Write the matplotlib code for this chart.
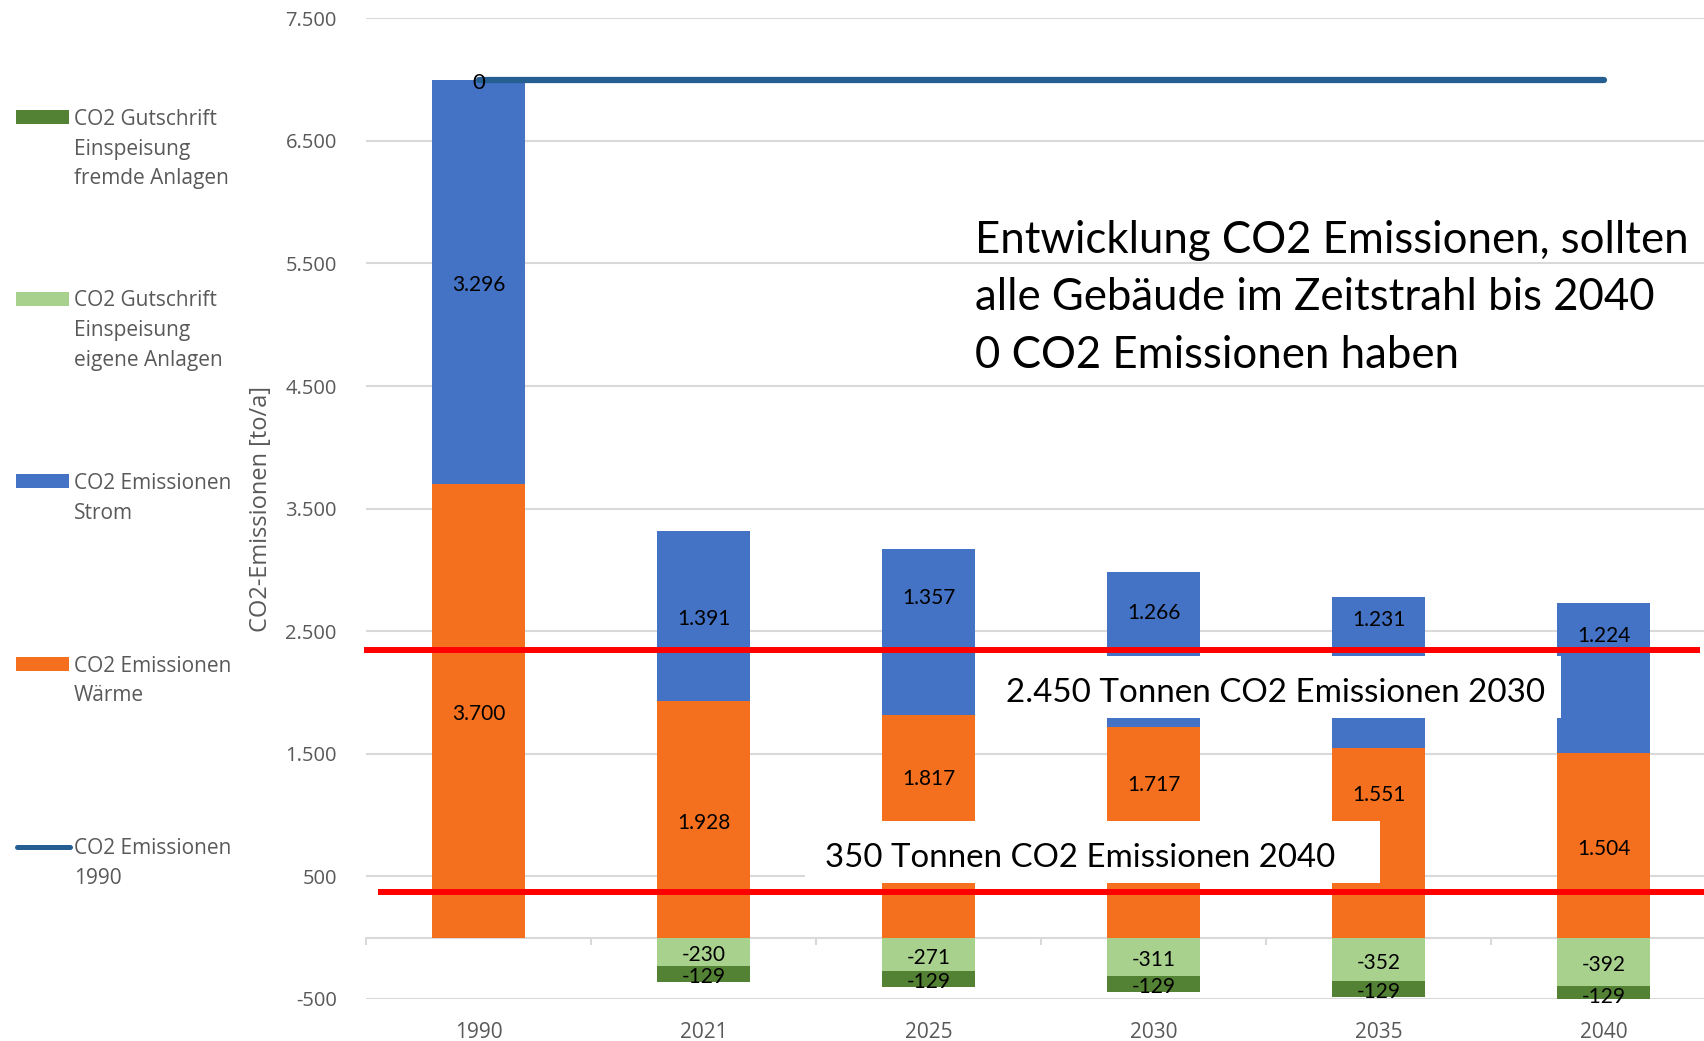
import matplotlib
matplotlib.use("Agg")
import matplotlib.pyplot as plt
from matplotlib.patches import Rectangle
from matplotlib.lines import Line2D
from matplotlib.ticker import FuncFormatter, FixedLocator
from matplotlib.transforms import offset_copy
import numpy as np

# ---------------- data ----------------
years = ["1990", "2021", "2025", "2030", "2035", "2040"]
waerme = [3700, 1928, 1817, 1717, 1551, 1504]
strom = [3296, 1391, 1357, 1266, 1231, 1224]
gutschrift_eigene = [0, -230, -271, -311, -352, -392]
gutschrift_fremde = [0, -129, -129, -129, -129, -129]
emissionen_1990 = [6996, 6996, 6996, 6996, 6996, 6996]
label_1990 = "0"

legend_labels = [
    ["CO2 Gutschrift", "Einspeisung", "fremde Anlagen"],
    ["CO2 Gutschrift", "Einspeisung", "eigene Anlagen"],
    ["CO2 Emissionen", "Strom"],
    ["CO2 Emissionen", "Wärme"],
    ["CO2 Emissionen", "1990"],
]

ziel_werte = [2350, 373]
ziel_texte = ["2.450 Tonnen CO2 Emissionen 2030", "350 Tonnen CO2 Emissionen 2040"]
titel_zeilen = ["Entwicklung CO2 Emissionen, sollten",
                "alle Gebäude im Zeitstrahl bis 2040",
                "0 CO2 Emissionen haben"]

# manually moved label positions (as in the reference)
strom_label_pos = {2: 2796, 3: 2672, 4: 2620, 5: 2485}
waerme_label_pos = {2: 1322, 3: 1269, 4: 1189}

# ---------------- styles ----------------
C_ORANGE = "#F5701E"
C_BLUE = "#4472C4"
C_LGREEN = "#A9D18E"
C_DGREEN = "#548235"
C_LINE = "#255E91"
C_RED = "#FF0000"
C_GRID = "#D9D9D9"
C_TXT = "#595959"

W, H = 1704, 1041
fig = plt.figure(figsize=(W / 100, H / 100), dpi=100)
fig.patch.set_facecolor("white")

def fx(px):
    return px / W

def fy(py):
    return 1 - py / H

ax = fig.add_axes([fx(366), fy(999), 1350 / W, 980.7 / H])
ax.set_xlim(-0.5, 5.5)
ax.set_ylim(-500, 7500)

x = np.arange(len(years))
bw = 0.41

ax.bar(x, waerme, bw, color=C_ORANGE, zorder=2)
ax.bar(x, strom, bw, bottom=waerme, color=C_BLUE, zorder=2)
ax.bar(x, gutschrift_eigene, bw, color=C_LGREEN, zorder=2)
ax.bar(x, gutschrift_fremde, bw, bottom=gutschrift_eigene, color=C_DGREEN, zorder=2)

ax.plot(x, emissionen_1990, color=C_LINE, lw=4.5, solid_capstyle="round", zorder=4)

def fmt(v):
    return f"{int(v):,}".replace(",", ".")

tdown = offset_copy(ax.transData, fig=fig, x=0, y=-3.3, units="dots")

LBL = dict(ha="center", va="center", fontsize=15, family="Lato", color="black",
           zorder=6, transform=tdown)
for i in range(len(years)):
    ax.text(x[i], waerme_label_pos.get(i, waerme[i] / 2), fmt(waerme[i]), **LBL)
    ax.text(x[i], strom_label_pos.get(i, waerme[i] + strom[i] / 2), fmt(strom[i]), **LBL)
    if gutschrift_eigene[i] != 0:
        ax.text(x[i], gutschrift_eigene[i] / 2, fmt(gutschrift_eigene[i]), **LBL)
    if gutschrift_fremde[i] != 0:
        ax.text(x[i], gutschrift_eigene[i] + gutschrift_fremde[i] / 2,
                fmt(gutschrift_fremde[i]), **LBL)
ax.text(x[0], emissionen_1990[0], label_1990, ha="center", va="center",
        fontsize=16, family="Lato", color="black", zorder=7, transform=tdown)

# axes styling
for s in ["left", "right", "top"]:
    ax.spines[s].set_visible(False)
ax.spines["bottom"].set_position(("data", 0))
ax.spines["bottom"].set_color(C_GRID)
ax.spines["bottom"].set_linewidth(1.5)
ax.spines["bottom"].set_zorder(1.5)

ax.set_yticks(np.arange(-500, 8000, 1000))
ax.yaxis.set_major_formatter(FuncFormatter(lambda v, _: fmt(v)))
ax.tick_params(axis="y", length=0, pad=21, labelsize=14.5, labelcolor=C_TXT)
for lab in ax.get_yticklabels():
    lab.set_family("Open Sans")
ax.yaxis.grid(True, color=C_GRID, lw=1.5)
ax.set_axisbelow(True)

ax.xaxis.set_major_locator(FixedLocator(np.arange(-0.5, 6, 1.0)))
ax.xaxis.set_minor_locator(FixedLocator(x))
ax.xaxis.set_major_formatter(FuncFormatter(lambda v, _: ""))
ax.xaxis.set_minor_formatter(FuncFormatter(lambda v, p: years[int(round(v))]))
ax.tick_params(axis="x", which="major", direction="out", length=5, width=1.5, color=C_GRID)
ax.tick_params(axis="x", which="minor", length=0, pad=61, labelsize=15, labelcolor=C_TXT)
for lab in ax.get_xticklabels(minor=True):
    lab.set_family("Open Sans")

ax.set_ylabel("CO2-Emissionen [to/a]", fontsize=17, color=C_TXT, family="Open Sans")
ax.yaxis.set_label_coords((273 - 366) / 1350, 0.5)

# red target lines
def dx(px):
    return (px - 366) / 225 - 0.5

ax.plot([dx(367), dx(1697)], [ziel_werte[0]] * 2, color=C_RED, lw=4.3, zorder=5, clip_on=False)
ax.plot([dx(381), 5.5], [ziel_werte[1]] * 2, color=C_RED, lw=4.3, zorder=5)

# white text boxes
ax.add_patch(Rectangle((dx(991), 1795), dx(1561) - dx(991), 2296 - 1795,
                       facecolor="white", edgecolor="none", zorder=8))
ax.add_patch(Rectangle((dx(805), 449), dx(1380) - dx(805), 948 - 449,
                       facecolor="white", edgecolor="none", zorder=8))

fig.canvas.draw()
renderer = fig.canvas.get_renderer()

def fit(t, target):
    w = t.get_window_extent(renderer).width
    t.set_fontsize(t.get_fontsize() * target / w)

t1 = ax.text(dx(1276), 2024, ziel_texte[0], ha="center", va="center",
             fontsize=24, family="Lato", color="black", zorder=9, transform=tdown)
t2 = ax.text(dx(1080), 676, ziel_texte[1], ha="center", va="center",
             fontsize=24, family="Lato", color="black", zorder=9, transform=tdown)
fit(t1, 540)
fit(t2, 511)

tdown2 = offset_copy(ax.transData, fig=fig, x=0, y=-2.2, units="dots")
title_base = [5607, 5141, 4668]
tts = []
for line, yb in zip(titel_zeilen, title_base):
    tts.append(ax.text(dx(975), yb, line, ha="left", va="baseline",
                       fontsize=30, family="Lato", color="black", zorder=9,
                       transform=tdown2))
w0 = tts[0].get_window_extent(renderer).width
for t in tts:
    t.set_fontsize(30 * 713 / w0)

# legend (manual, outside axes)
legend_colors = [C_DGREEN, C_LGREEN, C_BLUE, C_ORANGE, None]
legend_y = [117.4, 298.8, 481.4, 664, 846.6]
for lines, col, yc in zip(legend_labels, legend_colors, legend_y):
    if col is not None:
        fig.add_artist(Rectangle((fx(16), fy(yc + 7)), fx(69) - fx(16), 14 / H,
                                 transform=fig.transFigure, facecolor=col, edgecolor="none"))
    else:
        fig.add_artist(Line2D([fx(17), fx(70)], [fy(yc), fy(yc)], transform=fig.transFigure,
                              color=C_LINE, lw=3.6, solid_capstyle="round"))
    for k, s in enumerate(lines):
        fig.text(fx(74), fy(yc + 2.2 + k * 29.5), s, ha="left", va="center",
                 fontsize=15, family="Open Sans", color=C_TXT)

fig.savefig("out.png", dpi=100, facecolor="white")
